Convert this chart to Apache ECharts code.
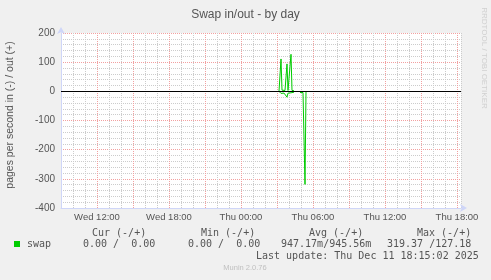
<!DOCTYPE html>
<html><head><meta charset="utf-8">
<script src="https://cdn.jsdelivr.net/npm/echarts@6/dist/echarts.min.js"></script>
<style>html,body{margin:0;padding:0;background:#f0f0f0}#c{width:491px;height:280px}</style>
</head><body><div id="c"></div>
<script>
// ---- data ----
const chartTitle = 'Swap in/out - by day';
const yAxisName = 'pages per second in (-) / out (+)';
// x values are minutes since Wed 00:00
const xMin = 540, xMax = 2540;
const tickMinutes = [720, 1080, 1440, 1800, 2160, 2520];
const tickLabels = ['Wed 12:00', 'Wed 18:00', 'Thu 00:00', 'Thu 06:00', 'Thu 12:00', 'Thu 18:00'];
const sampleMinutes = [1630, 1635, 1640, 1645, 1650, 1655, 1660, 1665, 1670, 1675, 1680, 1685, 1690, 1695, 1700, 1705, 1710, 1715, 1720, 1725, 1730, 1735, 1740, 1745, 1750, 1755, 1760, 1765];
const outValues =     [0,    3,    111,  4,    2,    2,    3,    3,    94,   3,    2,    3,    127,  3,    2,    2,    null, null, null, null, null, null, null, null, null, null, null, null];
const inValues =      [0,    3,    7,    5,    6,    6,    5,    6,    20,   6,    5,    5,    5,    5,    4,    3,    null, null, null, null, null, 4,    4,    4,    4,    4,    319,  0];
const legendName = 'swap';
const statHeaders = ['Cur (-/+)', 'Min (-/+)', 'Avg (-/+)', 'Max (-/+)'];
const statValues = ['0.00 /  0.00', '0.00 /  0.00', '947.17m/945.56m', '319.37 /127.18'];
const lastUpdate = 'Last update: Thu Dec 11 18:15:02 2025';
const versionText = 'Munin 2.0.76';
const watermark = 'RRDTOOL / TOBI OETIKER';

// ---- chart ----
const green = '#00cc00';
const textCol = '#555';
const mono = '"DejaVu Sans Mono", monospace';
const sans = '"Liberation Sans", Arial, sans-serif';
const outData = sampleMinutes.map((m, i) => [m, outValues[i] == null ? null : outValues[i]]);
const inData = sampleMinutes.map((m, i) => [m, inValues[i] == null ? null : -inValues[i]]);

const headerX = [92, 201, 309, 417];
const valueX = [83, 188, 281, 387];
const graphics = [];
graphics.push({type: 'text', x: 10, y: 115, rotation: Math.PI / 2,
  style: {text: yAxisName, font: '10.5px ' + sans, fill: textCol, align: 'center', verticalAlign: 'middle'}});
graphics.push({type: 'text', x: 484, y: 58, rotation: -Math.PI / 2,
  style: {text: watermark, font: '8px ' + sans, fill: '#d0d0d0', align: 'center', verticalAlign: 'middle'}});
statHeaders.forEach((h, i) => graphics.push({type: 'text', x: headerX[i], y: 233,
  style: {text: h, font: '10px ' + mono, fill: textCol, verticalAlign: 'middle'}}));
graphics.push({type: 'rect', shape: {x: 14, y: 241, width: 6, height: 6}, style: {fill: green}});
graphics.push({type: 'text', x: 27, y: 244.5, style: {text: legendName, font: '10px ' + mono, fill: textCol, verticalAlign: 'middle'}});
statValues.forEach((v, i) => graphics.push({type: 'text', x: valueX[i], y: 244.5,
  style: {text: v, font: '10px ' + mono, fill: textCol, verticalAlign: 'middle'}}));
graphics.push({type: 'text', x: 256, y: 256, style: {text: lastUpdate, font: '10px ' + mono, fill: textCol, verticalAlign: 'middle'}});
graphics.push({type: 'text', x: 245, y: 268, style: {text: versionText, font: '7.5px ' + sans, fill: '#c0c0c0', align: 'center', verticalAlign: 'middle'}});

const chart = echarts.init(document.getElementById('c'), null, {renderer: 'canvas'});
chart.setOption({
  backgroundColor: '#f0f0f0',
  animation: false,
  title: {text: chartTitle, left: 'center', top: 4,
    textStyle: {fontFamily: sans, fontSize: 12, fontWeight: 'normal', color: textCol}},
  grid: {left: 61, right: 30, top: 33, bottom: 72, show: true, backgroundColor: '#ffffff', borderWidth: 0},
  xAxis: {
    type: 'value', min: xMin, max: xMax, interval: 60,
    axisLine: {show: true, onZero: false, lineStyle: {color: '#cfd6f8'}, symbol: ['none', 'arrow'], symbolSize: [6, 7], symbolOffset: [0, 6]},
    axisTick: {show: false},
    axisLabel: {fontSize: 9.5, fontFamily: sans, color: textCol, margin: 4,
      formatter: v => { const k = tickMinutes.indexOf(v); return k >= 0 ? tickLabels[k] : ''; }},
    splitLine: {show: true, lineStyle: {color: ['#f2a0a0', '#cccccc', '#cccccc'], type: [1, 1], width: 1}}
  },
  yAxis: {
    type: 'value', min: -400, max: 200, interval: 100,
    axisLine: {show: true, onZero: false, lineStyle: {color: '#cfd6f8'}, symbol: ['none', 'arrow'], symbolSize: [6, 7], symbolOffset: [0, 6]},
    axisTick: {show: false},
    axisLabel: {fontSize: 10, fontFamily: sans, color: textCol, margin: 6},
    splitLine: {show: true, lineStyle: {color: '#f2a0a0', type: [1, 1], width: 1}},
    minorTick: {show: false, splitNumber: 5},
    minorSplitLine: {show: true, lineStyle: {color: '#cccccc', type: [1, 1], width: 1}}
  },
  series: [
    {type: 'line', name: 'out', data: outData, symbol: 'none', connectNulls: false, lineStyle: {color: green, width: 1}, z: 2},
    {type: 'line', name: 'in', data: inData, symbol: 'none', connectNulls: false, lineStyle: {color: green, width: 1}, z: 2},
    {type: 'line', name: 'zero', data: [], z: 5,
      markLine: {silent: true, symbol: 'none', label: {show: false}, animation: false,
        lineStyle: {color: '#000000', width: 1, type: 'solid'}, data: [{yAxis: 0}]}}
  ],
  graphic: graphics
});
</script></body></html>
